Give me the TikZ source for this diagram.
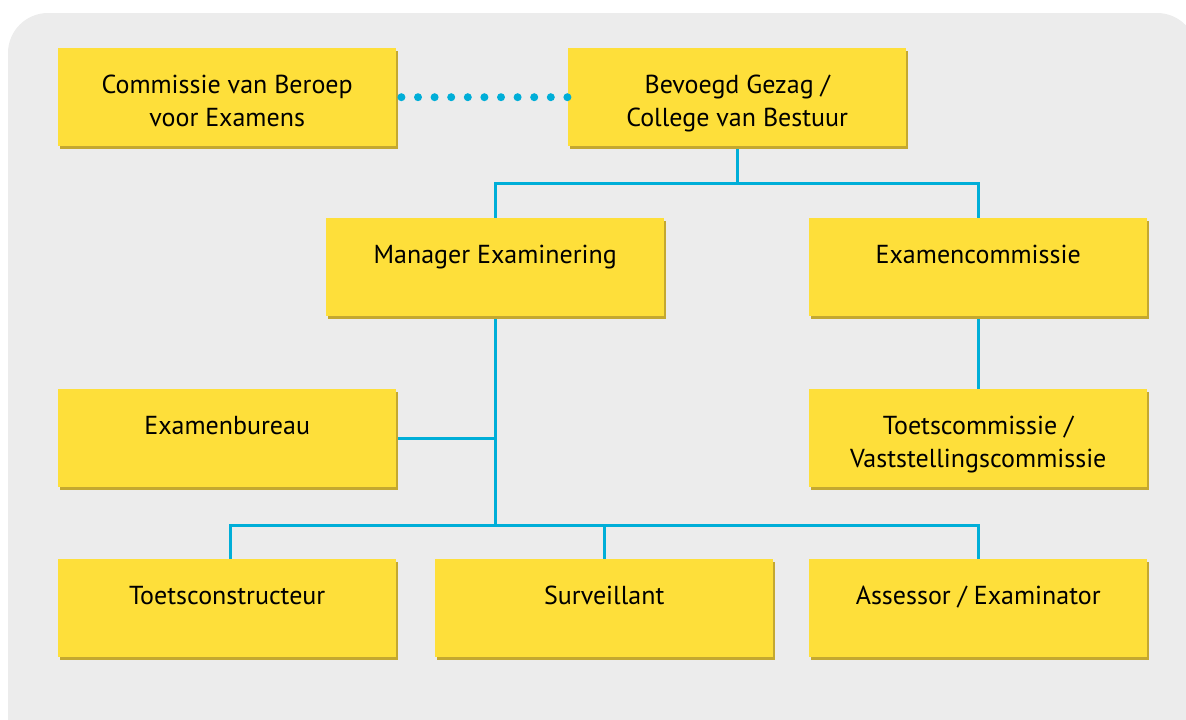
\documentclass[tikz,border=0pt]{standalone}
\usepackage{fontspec}
\setmainfont{PT Sans}
\usetikzlibrary{shadows}
\definecolor{OrgYellow}{RGB}{254,223,58}
\definecolor{OrgShade}{RGB}{196,168,48}
\definecolor{OrgCyan}{RGB}{0,174,216}
\definecolor{OrgGray}{RGB}{236,236,236}

\begin{document}
\begin{tikzpicture}[x=1pt, y=-1pt,
    orgbox/.style={fill=OrgYellow, anchor=north west, inner sep=0pt,
      minimum width=338pt, text height=45pt, text depth=53pt, align=center,
      font=\fontsize{26pt}{33pt}\selectfont,
      drop shadow={shadow xshift=2pt, shadow yshift=-3pt, fill=OrgShade, opacity=1}},
    twoline/.style={text height=78pt, text depth=20pt},
    orgline/.style={draw=OrgCyan, line width=3pt},
    orgdots/.style={draw=OrgCyan, line width=8pt, line cap=round, dash pattern=on 0pt off 16.6pt}]
        \useasboundingbox (0,0) rectangle (1186,720);
        \clip (0,0) rectangle (1186,720);
        \fill[OrgGray, rounded corners=40pt] (8,13) rectangle (1197,780);

        \node[orgbox, twoline] (beroep) at (58,48) {Commissie van Beroep\\voor Examens};
        \node[orgbox, twoline] (gezag) at (568,48) {Bevoegd Gezag /\\College van Bestuur};
        \node[orgbox] (manager) at (326,218) {Manager Examinering};
        \node[orgbox] (examcie) at (809,218) {Examencommissie};
        \node[orgbox] (bureau) at (58,389) {Examenbureau};
        \node[orgbox, twoline] (toetscie) at (809,389) {Toetscommissie /\\Vaststellingscommissie};
        \node[orgbox] (constructeur) at (58,559) {Toetsconstructeur};
        \node[orgbox] (surveillant) at (435,559) {Surveillant};
        \node[orgbox] (assessor) at (809,559) {Assessor / Examinator};

        \draw[orgdots] ([xshift=5pt]beroep.east) -- (gezag.west);

        \draw[orgline] ([yshift=-3pt]gezag.south) -- ++(0,34) coordinate (topbar);
        \draw[orgline] (topbar) -| (manager.north);
        \draw[orgline] (topbar) -| (examcie.north);
        \draw[orgline] ([yshift=-3pt]examcie.south) -- (toetscie.north);

        \draw[orgline] ([yshift=-3pt]manager.south) -- ++(0,206) coordinate (lowbar);
        \draw[orgline] ([xshift=2pt]bureau.east) -- (bureau.east -| lowbar);
        \draw[orgline] (lowbar) -| ([xshift=3pt]constructeur.north);
        \draw[orgline] (lowbar) -| (surveillant.north);
        \draw[orgline] (lowbar) -| (assessor.north);
      \end{tikzpicture}
\end{document}
